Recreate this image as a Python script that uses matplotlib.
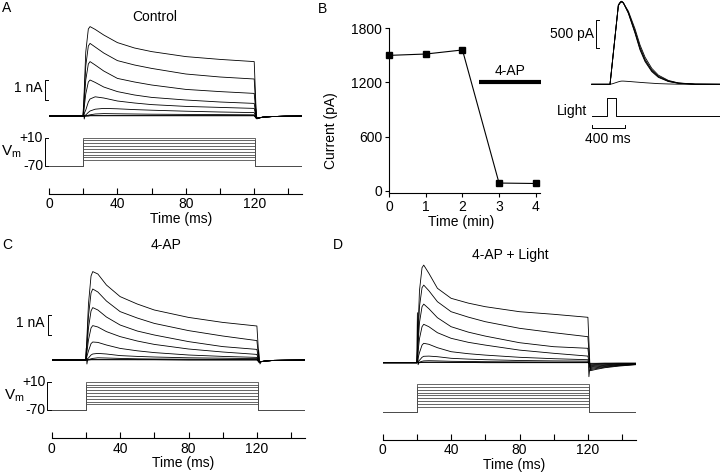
import matplotlib
matplotlib.use('Agg')
import matplotlib.pyplot as plt

plt.rcParams['font.family'] = ['Liberation Sans', 'DejaVu Sans']
plt.rcParams['font.size'] = 10
plt.rcParams['mathtext.default'] = 'regular'

W, H = 720, 476
PX_MS = 1.71    # px per ms, step panels
PX_NA = 20.0    # px per nA
PX_MV = 0.355   # px per mV

# ---- voltage protocol ----
HOLD_MV = -70
STEP_MV = [10, 2, -6, -14, -22, -30, -38, -46, -54]
STEP_T = [0, 20, 20, 120.5, 120.5, 148]

# ---- current traces (nA), sampled at these times (ms) ----
T_PRE = [0, 19.9]
T_ON = [20, 21.5, 23, 24, 27, 32, 40, 50, 60, 80, 100, 120]
T_OFF = [121.3, 122.5, 125, 130, 138, 148]

ctrl_on = [
    [0, 3.2, 4.35, 4.47, 4.33, 4.05, 3.67, 3.4, 3.22, 2.97, 2.83, 2.72],
    [0, 2.5, 3.5, 3.63, 3.45, 3.15, 2.77, 2.55, 2.38, 2.1, 1.95, 1.85],
    [0, 1.8, 2.6, 2.72, 2.55, 2.25, 1.88, 1.7, 1.55, 1.33, 1.22, 1.13],
    [0, 1.1, 1.7, 1.8, 1.68, 1.45, 1.22, 1.05, 0.93, 0.8, 0.7, 0.63],
    [0, 0.3, 0.7, 0.85, 0.96, 0.9, 0.75, 0.65, 0.57, 0.48, 0.43, 0.38],
    [0, 0.05, 0.18, 0.25, 0.34, 0.38, 0.36, 0.32, 0.29, 0.24, 0.2, 0.17],
    [0, 0.01, 0.04, 0.06, 0.1, 0.12, 0.11, 0.1, 0.09, 0.08, 0.07, 0.06],
    [0, 0.0, 0.01, 0.02, 0.03, 0.03, 0.03, 0.03, 0.03, 0.02, 0.02, 0.02],
    [0, 0.0, 0.0, 0.01, 0.01, 0.01, 0.01, 0.01, 0.01, 0.01, 0.01, 0.01],
]
ctrl_tail = [-0.12, -0.1, -0.06, -0.03, -0.01, 0]

ap_on = [
    [0, 2.8, 4.2, 4.42, 4.3, 3.75, 3.17, 2.8, 2.5, 2.13, 1.88, 1.7],
    [0, 2.2, 3.35, 3.55, 3.4, 2.95, 2.42, 2.1, 1.83, 1.47, 1.2, 0.97],
    [0, 1.6, 2.45, 2.62, 2.5, 2.15, 1.75, 1.45, 1.25, 0.92, 0.67, 0.53],
    [0, 1.0, 1.6, 1.72, 1.65, 1.42, 1.17, 0.95, 0.78, 0.55, 0.4, 0.28],
    [0, 0.45, 0.82, 0.9, 0.88, 0.75, 0.58, 0.46, 0.37, 0.25, 0.18, 0.13],
    [0, 0.1, 0.25, 0.3, 0.33, 0.3, 0.22, 0.18, 0.15, 0.11, 0.09, 0.07],
    [0, 0.02, 0.06, 0.08, 0.11, 0.1, 0.08, 0.06, 0.05, 0.04, 0.03, 0.03],
    [0, 0.01, 0.02, 0.03, 0.03, 0.03, 0.03, 0.02, 0.02, 0.01, 0.01, 0.01],
    [0, 0.0, 0.01, 0.01, 0.01, 0.01, 0.01, 0.01, 0.01, 0.0, 0.0, 0.0],
]
ap_tail = [-0.1, -0.08, -0.05, -0.02, -0.01, 0]

light_on = [
    [0, 3.6, 4.75, 4.88, 4.47, 3.72, 3.22, 2.98, 2.8, 2.55, 2.42, 2.27],
    [0, 2.8, 3.75, 3.88, 3.6, 3.05, 2.55, 2.28, 2.05, 1.72, 1.5, 1.3],
    [0, 2.0, 2.8, 2.93, 2.7, 2.25, 1.8, 1.53, 1.33, 1.0, 0.8, 0.72],
    [0, 1.2, 1.8, 1.92, 1.8, 1.5, 1.22, 1.02, 0.88, 0.63, 0.47, 0.33],
    [0, 0.5, 0.88, 0.97, 0.92, 0.75, 0.55, 0.45, 0.38, 0.27, 0.2, 0.15],
    [0, 0.12, 0.27, 0.32, 0.33, 0.3, 0.22, 0.18, 0.15, 0.11, 0.09, 0.08],
    [0, 0.03, 0.07, 0.09, 0.1, 0.09, 0.07, 0.06, 0.05, 0.04, 0.03, 0.03],
    [0, 0.01, 0.02, 0.03, 0.03, 0.03, 0.02, 0.02, 0.02, 0.01, 0.01, 0.01],
    [0, 0.0, 0.01, 0.01, 0.01, 0.01, 0.01, 0.01, 0.0, 0.0, 0.0, 0.0],
]
light_tail = [
    [-0.40, -0.38, -0.33, -0.25, -0.17, -0.10],
    [-0.35, -0.33, -0.29, -0.22, -0.15, -0.09],
    [-0.30, -0.28, -0.25, -0.19, -0.13, -0.08],
    [-0.25, -0.23, -0.21, -0.16, -0.11, -0.07],
    [-0.20, -0.19, -0.17, -0.13, -0.09, -0.06],
    [-0.15, -0.14, -0.13, -0.10, -0.07, -0.05],
    [-0.10, -0.10, -0.09, -0.07, -0.05, -0.04],
    [-0.06, -0.06, -0.05, -0.04, -0.03, -0.03],
    [-0.03, -0.03, -0.03, -0.02, -0.02, -0.02],
]

# capacitive artefacts (ms, nA)
ctrl_art = ([19.8, 20.2, 20.6, 21.0], [0, 0.5, -0.15, 0],
            [120.6, 121.0, 121.6, 122.4], [0, 0.35, -0.15, -0.1])
ap_art = ([19.8, 20.2, 20.6, 21.0], [0, 0.6, -0.2, 0],
          [120.4, 121.0, 121.8, 122.6], [0, 0.5, -0.2, -0.08])
light_art = ([19.9, 20.3, 20.7, 21.2], [0, 2.5, -0.1, 0],
             [120.3, 120.6, 121.0], [0, -0.7, -0.35])

# ---- panel B: peak current vs time ----
b_min = [0, 1, 2, 3, 4]
b_pa = [1500, 1515, 1560, 85, 80]
b_drug = [2.45, 4.14]

# inset: light-evoked currents (ms, pA)
ins_t = [0, 220, 250, 280, 320, 345, 360, 380, 440, 520, 580, 640, 720, 800, 920, 1040, 1240, 1540]
ins_pa = [
    [0, 0, 430, 860, 1430, 1485, 1495, 1470, 1280, 920, 620, 410, 230, 125, 50, 18, 0, 0],
    [0, 0, 420, 850, 1420, 1475, 1485, 1465, 1300, 960, 670, 450, 260, 145, 60, 22, 3, 0],
    [0, 0, 425, 855, 1425, 1480, 1490, 1468, 1320, 1000, 710, 490, 290, 165, 70, 25, 4, 0],
    [0, 0, 435, 865, 1435, 1490, 1500, 1475, 1290, 940, 640, 430, 245, 135, 55, 20, 2, 0],
    [0, 0, 10, 25, 45, 55, 58, 58, 52, 42, 35, 28, 20, 12, 6, 2, 0, 0],
]
light_t = [0, 187, 187, 292, 292, 1540]
light_v = [0, 0, 1, 1, 0, 0]

fig = plt.figure(figsize=(7.2, 4.76), dpi=100)


def px_axes(left, top, right, bottom):
    ax = fig.add_axes([left / W, 1 - bottom / H, (right - left) / W, (bottom - top) / H])
    ax.set_facecolor('none')
    return ax


def ptext(x, y, s, **kw):
    fig.text(x / W, 1 - y / H, s, **kw)


def step_panel(x0, y_base, y_p10, y_axis, on, tails, art, na_bar=None):
    right = x0 + 148 * PX_MS
    top, bot = y_base - 110, y_base + 16
    ax_i = px_axes(x0, top, right, bot)
    ax_i.set_xlim(0, 148)
    ax_i.set_ylim(-(bot - y_base) / PX_NA, (y_base - top) / PX_NA)
    ax_i.axis('off')
    for vals, tail in zip(on, tails):
        ax_i.plot(T_PRE + T_ON + T_OFF, [0, 0] + vals + tail, color='k', lw=0.6)
    ax_i.plot(art[0], art[1], color='k', lw=0.6)
    ax_i.plot(art[2], art[3], color='k', lw=0.6)
    if na_bar is not None:
        ax_i.plot([-0.6, -2.4, -2.4, -0.6], [na_bar, na_bar, na_bar + 1, na_bar + 1],
                  color='k', lw=0.7, clip_on=False)
        ax_i.text(-4, na_bar + 0.6, '1 nA', ha='right', va='center')

    y_m70 = y_p10 + 80 * PX_MV
    ax_v = px_axes(x0, y_p10 - 8, right, y_axis)
    ax_v.set_xlim(0, 148)
    ax_v.set_ylim(-70 - (y_axis - y_m70) / PX_MV, 10 + 8 / PX_MV)
    for sp in ['top', 'right', 'left']:
        ax_v.spines[sp].set_visible(False)
    ax_v.spines['bottom'].set_linewidth(0.8)
    ax_v.set_yticks([])
    ax_v.set_xticks([0, 40, 80, 120])
    ax_v.set_xticks([20, 60, 100, 140], minor=True)
    ax_v.tick_params(axis='x', which='both', direction='in', length=4, width=0.8, pad=2.5)
    ax_v.set_xlabel('Time (ms)')
    ax_v.xaxis.set_label_coords(77 / 148, -25 / (y_axis - y_p10 + 8))
    ax_v.xaxis.label.set_va('center')
    for lv in STEP_MV:
        ax_v.plot(STEP_T, [HOLD_MV, HOLD_MV, lv, lv, HOLD_MV, HOLD_MV], color='0.3', lw=0.6)
    if na_bar is not None:
        ax_v.plot([-0.5, -2.5, -2.5, -0.5], [10, 10, -70, -70], color='k', lw=0.7, clip_on=False)
        ax_v.text(-3.5, 10, '+10', ha='right', va='center')
        ax_v.text(-3.5, -70, '-70', ha='right', va='center')
        ax_v.text(-22, -30, '$V_m$', ha='center', va='center', fontsize=11)


step_panel(49, 116, 137.5, 193.5, ctrl_on, [ctrl_tail] * 9, ctrl_art, na_bar=0.8)
step_panel(51.7, 360, 381.7, 438.3, ap_on, [ap_tail] * 9, ap_art, na_bar=1.25)
step_panel(382.7, 362.7, 384, 440, light_on, light_tail, light_art)

ptext(155, 17, 'Control', ha='center', va='center')
ptext(166, 245, '4-AP', ha='center', va='center')
ptext(510, 255, '4-AP + Light', ha='center', va='center')
ptext(2, 8, 'A', ha='left', va='center')
ptext(318, 9, 'B', ha='left', va='center')
ptext(2, 245, 'C', ha='left', va='center')
ptext(333, 245, 'D', ha='left', va='center')

# panel B
ax_b = px_axes(389.3, 28.3, 540, 192.7)
ax_b.set_xlim(0, 4.12)
ax_b.set_ylim(-22, 1800)
for sp in ['top', 'right']:
    ax_b.spines[sp].set_visible(False)
for sp in ['left', 'bottom']:
    ax_b.spines[sp].set_linewidth(0.8)
ax_b.plot(b_min, b_pa, color='k', lw=0.8, marker='s', ms=4.5, clip_on=False)
ax_b.set_xticks(b_min)
ax_b.set_yticks([0, 600, 1200, 1800])
ax_b.tick_params(direction='out', length=3, width=0.8, pad=2)
ax_b.set_ylabel('Current (pA)')
ax_b.yaxis.set_label_coords(-0.34, 0.38)
ax_b.set_xlabel('Time (min)')
ax_b.xaxis.set_label_coords(0.476, -0.178)
ax_b.xaxis.label.set_va('center')
ax_b.plot(b_drug, [1210, 1210], color='k', lw=3, solid_capstyle='butt', clip_on=False)
ax_b.text(sum(b_drug) / 2, 1330, '4-AP', ha='center', va='center')

# inset
PX_PER_MS_IN = 0.08333
PX_PER_PA_IN = 0.0554
ax_in = px_axes(591.7, 0, 720, 145)
ax_in.set_xlim(0, (720 - 591.7) / PX_PER_MS_IN)
ax_in.set_ylim(-(145 - 84.3) / PX_PER_PA_IN, 84.3 / PX_PER_PA_IN)
ax_in.axis('off')
for tr in ins_pa:
    ax_in.plot(ins_t, tr, color='k', lw=0.6, clip_on=False)
light_base = (84.3 - 116) / PX_PER_PA_IN
light_h = 17.7 / PX_PER_PA_IN
ax_in.plot(light_t, [light_base + light_h * v for v in light_v], color='k', lw=0.7)
ax_in.text(-56, light_base + 90, 'Light', ha='right', va='center')
bar_y = -(128.3 - 84.3) / PX_PER_PA_IN
ax_in.plot([0, 0, 400, 400], [bar_y + 60, bar_y, bar_y, bar_y + 60], color='k', lw=0.7)
ax_in.text(196, -(139 - 84.3) / PX_PER_PA_IN, '400 ms', ha='center', va='center')
ax_in.plot([88, 52, 52, 88], [660, 660, 1160, 1160], color='k', lw=0.7, clip_on=False)
ax_in.text(28, 910, '500 pA', ha='right', va='center')

fig.savefig('out.png', dpi=100)
